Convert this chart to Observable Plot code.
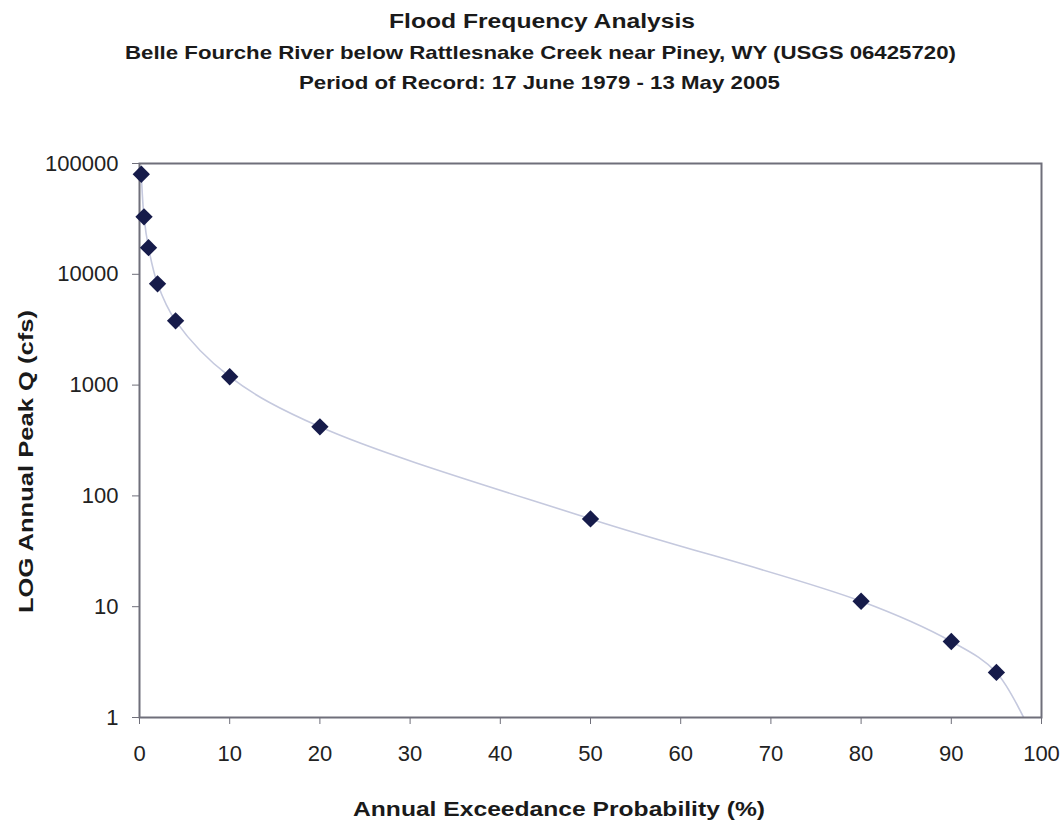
<!DOCTYPE html>
<html>
<head>
<meta charset="utf-8">
<script src="https://cdn.jsdelivr.net/npm/d3@7"></script>
<script src="https://cdn.jsdelivr.net/npm/@observablehq/plot@0.6"></script>
<style>
  html, body { margin: 0; padding: 0; background: #fff; }
  #chart { position: relative; width: 1063px; height: 822px; }
  svg { font-family: "Liberation Sans", Arial, sans-serif; }
</style>
</head>
<body>
<div id="chart"></div>
<script>
// Annual exceedance probability (%) and peak discharge (cfs)
const probability = [0.2, 0.5, 1, 2, 4, 10, 20, 50, 80, 90, 95];
const peakQ = [80000, 33000, 17400, 8200, 3800, 1190, 420, 62, 11.2, 4.85, 2.55];
// curve continues past the last marker and leaves the plot below 1 cfs
const tailProbability = [99];
const tailQ = [0.68];

const yTicks = [1, 10, 100, 1000, 10000, 100000];
const xTicks = [0, 10, 20, 30, 40, 50, 60, 70, 80, 90, 100];

const titleLines = [
  "Flood Frequency Analysis",
  "Belle Fourche River below Rattlesnake Creek near Piney, WY (USGS 06425720)",
  "Period of Record: 17 June 1979 - 13 May 2005"
];
const xTitle = "Annual Exceedance Probability (%)";
const yTitle = "LOG Annual Peak Q (cfs)";

const points = probability.map((p, i) => ({p, q: peakQ[i]}));
const curvePts = points.concat(tailProbability.map((p, i) => ({p, q: tailQ[i]})));

const plot = Plot.plot({
  width: 1063,
  height: 822,
  marginTop: 163,
  marginLeft: 139,
  marginRight: 22,
  marginBottom: 105,
  style: {fontFamily: "'Liberation Sans', Arial, sans-serif", fontSize: "22px", color: "#222"},
  x: {domain: [0, 100], ticks: xTicks, tickSize: 7, tickPadding: 21, label: null},
  y: {type: "log", domain: [1, 100000], ticks: yTicks, tickFormat: d => String(d), tickSize: 7, tickPadding: 14, label: null},
  marks: [
    Plot.line(curvePts, {x: "p", y: "q", curve: "catmull-rom", stroke: "#c5c9de", strokeWidth: 1.6, clip: true}),
    Plot.frame({stroke: "#6f6f7a", strokeWidth: 2}),
    Plot.dot(points, {x: "p", y: "q", symbol: "diamond2", r: 7.8, fill: "#161b4a", stroke: "none"})
  ]
});

document.getElementById("chart").appendChild(plot);

const svg = d3.select(plot);
svg.selectAll("[aria-label='x-axis tick'] path, [aria-label='y-axis tick'] path").attr("stroke", "#6f6f7a");

const titleSpecs = [
  {x: 389, y: 28, w: 306, size: 20},
  {x: 125, y: 59, w: 831, size: 19},
  {x: 299, y: 89, w: 481, size: 19}
];
titleLines.forEach((t, i) => {
  const s = titleSpecs[i];
  svg.append("text")
    .attr("x", s.x).attr("y", s.y)
    .attr("text-anchor", "start")
    .attr("font-size", s.size).attr("font-weight", "bold")
    .attr("fill", "#1a1a1a")
    .attr("textLength", s.w).attr("lengthAdjust", "spacingAndGlyphs")
    .text(t);
});

svg.append("text")
  .attr("x", 353).attr("y", 816)
  .attr("text-anchor", "start")
  .attr("font-size", 21).attr("font-weight", "bold").attr("fill", "#1a1a1a")
  .attr("textLength", 412).attr("lengthAdjust", "spacingAndGlyphs")
  .text(xTitle);

svg.append("text")
  .attr("transform", "translate(33,613) rotate(-90)")
  .attr("text-anchor", "start")
  .attr("font-size", 21).attr("font-weight", "bold").attr("fill", "#1a1a1a")
  .attr("textLength", 303).attr("lengthAdjust", "spacingAndGlyphs")
  .text(yTitle);
</script>
</body>
</html>
